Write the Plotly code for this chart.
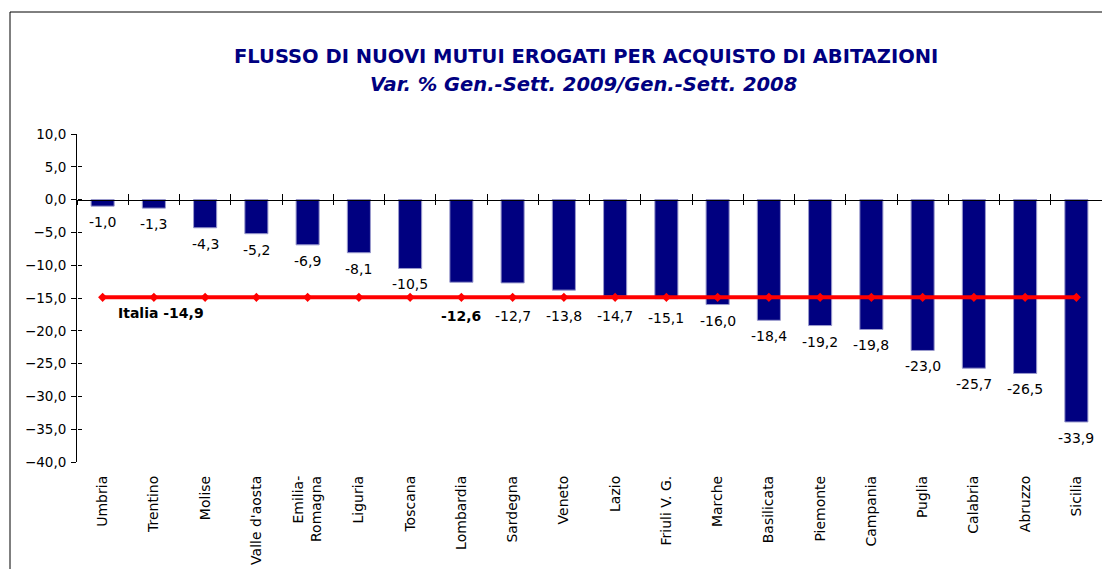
import plotly.graph_objects as go

categories = ["Umbria", "Trentino", "Molise", "Valle d'aosta", "Emilia-Romagna", "Liguria",
              "Toscana", "Lombardia", "Sardegna", "Veneto", "Lazio", "Friuli V. G.", "Marche",
              "Basilicata", "Piemonte", "Campania", "Puglia", "Calabria", "Abruzzo", "Sicilia"]
tick_labels = ["Umbria", "Trentino", "Molise", "Valle d'aosta", "Emilia-<br>Romagna", "Liguria",
               "Toscana", "Lombardia", "Sardegna", "Veneto", "Lazio", "Friuli V. G.", "Marche",
               "Basilicata", "Piemonte", "Campania", "Puglia", "Calabria", "Abruzzo", "Sicilia"]
values = [-1.0, -1.3, -4.3, -5.2, -6.9, -8.1, -10.5, -12.6, -12.7, -13.8, -14.7, -15.1, -16.0,
          -18.4, -19.2, -19.8, -23.0, -25.7, -26.5, -33.9]
italia_value = -14.9
italia_name = "Italia"
highlight = "Lombardia"
y_ticks = [10, 5, 0, -5, -10, -15, -20, -25, -30, -35, -40]
title_text = "FLUSSO DI NUOVI MUTUI EROGATI PER ACQUISTO DI ABITAZIONI"
subtitle_text = "Var. % Gen.-Sett. 2009/Gen.-Sett. 2008"

FONT = "DejaVu Sans"
NAVY = "#000080"

fig = go.Figure()

fig.add_trace(go.Bar(
    x=categories, y=values, width=0.45,
    marker=dict(color=NAVY, line=dict(color="#9a9acc", width=1)),
    xaxis="x", yaxis="y", showlegend=False, hoverinfo="x+y",
))

fig.add_trace(go.Scatter(
    x=categories, y=[italia_value] * len(categories),
    mode="lines+markers",
    line=dict(color="#ff0000", width=4),
    marker=dict(symbol="diamond", size=7, color="#ff0000"),
    xaxis="x2", yaxis="y", showlegend=False,
))

# invisible helper trace so the inner-tick axes exist
fig.add_trace(go.Scatter(
    x=categories, y=values, mode="markers", marker=dict(opacity=0),
    xaxis="x3", yaxis="y2", showlegend=False, hoverinfo="skip",
))

# data labels
for c, v in zip(categories, values):
    near = (italia_value - 1.0) <= v <= (italia_value + 3.0)
    anchor = min(v, italia_value) if near else v
    shift = -19 if near else -16
    bold = c == highlight
    txt = f"{v:.1f}".replace(".", ",")
    fig.add_annotation(
        x=c, y=anchor, xref="x", yref="y", yshift=shift,
        text=f"<b>{txt}</b>" if bold else txt, showarrow=False,
        font=dict(family=FONT, size=14, color="#000000"),
        yanchor="middle",
    )

fig.add_annotation(
    x=categories[1], y=italia_value, xref="x", yref="y", yshift=-16, xshift=7,
    text=f"<b>{italia_name} {italia_value:.1f}</b>".replace(".", ","),
    showarrow=False, font=dict(family=FONT, size=14, color="#000000"),
    yanchor="middle",
)

# titles
fig.add_annotation(
    x=0.497, y=(462 - 57) / 328, xref="paper", yref="paper",
    text=f"<b>{title_text}</b>", showarrow=False,
    font=dict(family=FONT, size=19.5, color=NAVY), xanchor="center", yanchor="middle",
)
fig.add_annotation(
    x=0.4946, y=(462 - 84) / 328, xref="paper", yref="paper",
    text=f"<b><i>{subtitle_text}</i></b>", showarrow=False,
    font=dict(family=FONT, size=19.5, color=NAVY), xanchor="center", yanchor="middle",
)

rng = [-40, 10]
cat_rng = [-0.5, len(categories) - 0.5]

fig.update_layout(
    width=1102, height=569,
    margin=dict(l=77, r=0, t=134, b=107),
    paper_bgcolor="white", plot_bgcolor="white",
    separators=",.",
    bargap=0.55,
    xaxis=dict(
        type="category", range=cat_rng, tickvals=categories, ticktext=tick_labels,
        tickangle=-90, showline=False, ticks="", showgrid=False, zeroline=False,
        tickfont=dict(family=FONT, size=14, color="#000000"),
        ticklabelstandoff=10,
    ),
    xaxis2=dict(
        type="category", range=cat_rng, overlaying="x", anchor="free", position=0.8,
        side="bottom", showline=True, linecolor="#000000", linewidth=1,
        ticks="outside", ticklen=4, tickcolor="#000000", tickson="boundaries",
        showticklabels=False, showgrid=False, zeroline=False,
    ),
    xaxis3=dict(
        type="category", range=cat_rng, overlaying="x", anchor="free", position=0.8,
        side="bottom", showline=False,
        ticks="inside", ticklen=6, tickcolor="#000000", tickson="boundaries",
        showticklabels=False, showgrid=False, zeroline=False,
    ),
    yaxis=dict(
        range=rng, tickvals=y_ticks, tickformat=".1f",
        showline=True, linecolor="#000000", linewidth=1,
        ticks="outside", ticklen=5, tickcolor="#000000",
        showgrid=False, zeroline=False,
        tickfont=dict(family=FONT, size=13.5, color="#000000"),
        ticklabelstandoff=2,
    ),
    yaxis2=dict(
        range=rng, overlaying="y", anchor="free", position=0, side="left",
        tickvals=y_ticks, ticks="inside", ticklen=4, tickcolor="#000000",
        showticklabels=False, showline=False, showgrid=False, zeroline=False,
    ),
)

# outer chart frame
fig.add_shape(type="rect", xref="paper", yref="paper",
              x0=(10 - 77) / 1025, x1=1.2, y0=-0.6, y1=(462 - 12) / 328,
              line=dict(color="#000000", width=1), fillcolor="rgba(0,0,0,0)", layer="below")

fig.write_html("out.html", config={"displayModeBar": False},
               post_script="document.body.style.margin='0';")
